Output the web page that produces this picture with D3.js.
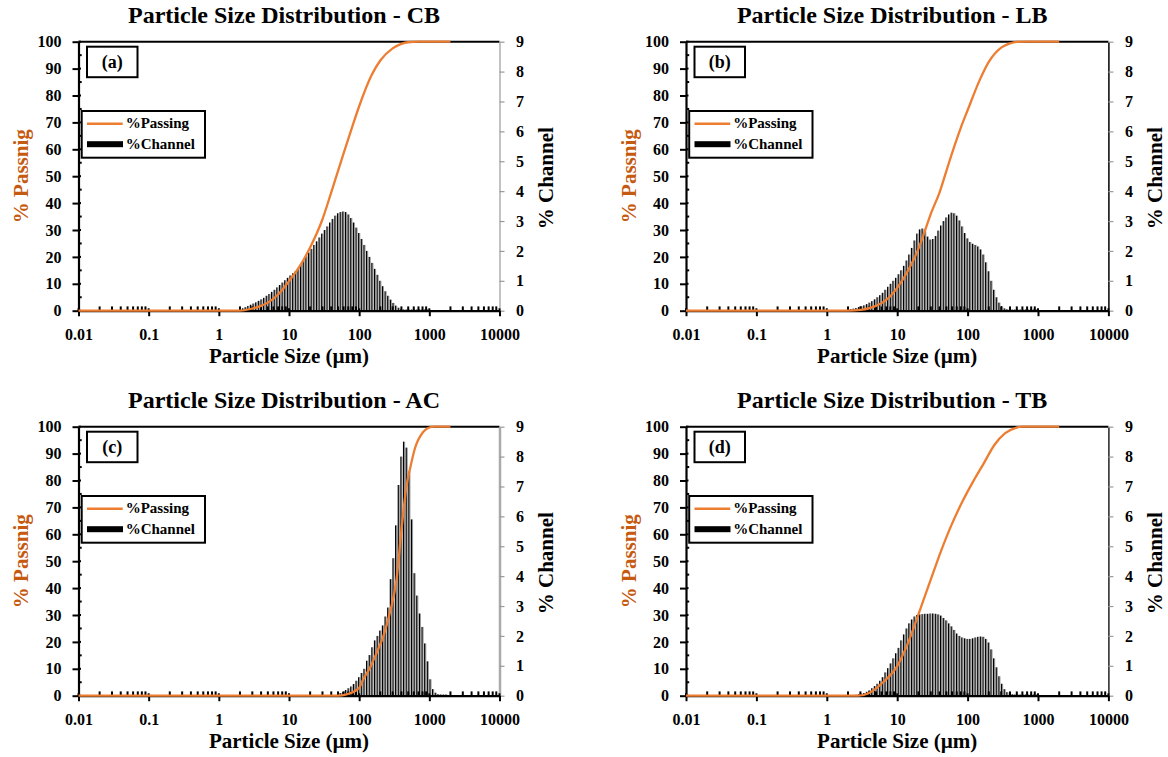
<!DOCTYPE html>
<html><head><meta charset="utf-8">
<script src="https://cdn.jsdelivr.net/npm/d3@7"></script>
<style>
body{margin:0;background:#fff;}
svg{display:block;}
text{font-family:"Liberation Serif","Times New Roman",serif;font-weight:bold;}
</style>
</head><body>
<svg id="chart" width="1168" height="757"></svg>
<script>
// ---------- DATA ----------
const panelTitles = ["Particle Size Distribution - CB","Particle Size Distribution - LB","Particle Size Distribution - AC","Particle Size Distribution - TB"];
const panelTags = ["(a)","(b)","(c)","(d)"];
const xTickValues = [0.01,0.1,1,10,100,1000,10000];
const xTickLabels = ["0.01","0.1","1","10","100","1000","10000"];
const leftTicks = [0,10,20,30,40,50,60,70,80,90,100];
const rightTicks = [0,1,2,3,4,5,6,7,8,9];
const xAxisTitle = "Particle Size (µm)";
const leftAxisTitle = "% Passnig";
const rightAxisTitle = "% Channel";
const legendLabels = ["%Passing","%Channel"];

// channel sizes (µm)
const channelSizes = [
 2.000, 2.181, 2.378, 2.594, 2.828, 3.084, 3.364, 3.668, 4.000, 4.362,
 4.757, 5.187, 5.657, 6.169, 6.727, 7.336, 8.000, 8.724, 9.514, 10.37,
 11.31, 12.34, 13.45, 14.67, 16.00, 17.45, 19.03, 20.75, 22.63, 24.68,
 26.91, 29.34, 32.00, 34.90, 38.05, 41.50, 45.25, 49.35, 53.82, 58.69,
 64.00, 69.79, 76.11, 83.00, 90.51, 98.70, 107.6, 117.4, 128.0, 139.6,
 152.2, 166.0, 181.0, 197.4, 215.3, 234.8, 256.0, 279.2, 304.4, 332.0,
 362.0, 394.8, 430.5, 469.5, 512.0, 558.3, 608.9, 664.0, 724.1, 789.6,
 861.1, 939.1, 1024, 1117, 1218, 1328, 1448, 1579, 1722, 1878,
 2048];

const chanCB = [
 0.03, 0.08, 0.12, 0.16, 0.20, 0.24, 0.28, 0.33, 0.38, 0.43,
 0.50, 0.56, 0.63, 0.70, 0.78, 0.86, 0.94, 1.02, 1.10, 1.18,
 1.25, 1.32, 1.42, 1.55, 1.68, 1.82, 1.95, 2.07, 2.20, 2.32,
 2.45, 2.58, 2.70, 2.82, 2.95, 3.07, 3.18, 3.26, 3.30, 3.32,
 3.30, 3.22, 3.10, 2.95, 2.78, 2.60, 2.40, 2.20, 2.00, 1.80,
 1.60, 1.40, 1.20, 1.00, 0.82, 0.65, 0.50, 0.37, 0.26, 0.17,
 0.10, 0.06, 0.04, 0.04, 0.04, 0.04, 0.04, 0.04, 0.04, 0.04,
 0.04, 0.04, 0, 0, 0, 0, 0, 0, 0, 0,
 0];
const chanLB = [
 0.03, 0.05, 0.07, 0.09, 0.12, 0.15, 0.18, 0.22, 0.27, 0.32,
 0.38, 0.45, 0.52, 0.60, 0.70, 0.80, 0.90, 1.00, 1.10, 1.22,
 1.35, 1.50, 1.68, 1.88, 2.10, 2.35, 2.58, 2.72, 2.75, 2.65,
 2.48, 2.38, 2.40, 2.50, 2.68, 2.85, 3.00, 3.12, 3.22, 3.28,
 3.26, 3.18, 3.02, 2.82, 2.60, 2.42, 2.30, 2.24, 2.20, 2.15,
 2.05, 1.88, 1.62, 1.32, 1.00, 0.70, 0.45, 0.27, 0.15, 0.08,
 0.05, 0.04, 0.04, 0.04, 0.04, 0.04, 0.04, 0.04, 0.04, 0.04,
 0.04, 0.04, 0, 0, 0, 0, 0, 0, 0, 0,
 0];
const chanAC = [
 0, 0, 0, 0, 0, 0, 0, 0, 0, 0,
 0, 0, 0, 0, 0, 0, 0, 0, 0, 0,
 0, 0, 0, 0, 0, 0, 0, 0, 0, 0,
 0, 0, 0, 0, 0, 0, 0.02, 0.05, 0.09, 0.13,
 0.19, 0.25, 0.31, 0.39, 0.50, 0.62, 0.76, 0.90, 1.17, 1.36,
 1.62, 1.85, 2.00, 2.18, 2.35, 2.65, 2.95, 3.90, 4.60, 5.70,
 7.05, 8.00, 8.50, 8.30, 7.50, 5.90, 4.10, 3.35, 2.75, 2.30,
 1.75, 1.15, 0.55, 0.22, 0.10, 0.05, 0.04, 0.04, 0.04, 0,
 0];
const chanTB = [
 0, 0, 0, 0.03, 0.05, 0.07, 0.09, 0.13, 0.18, 0.25,
 0.32, 0.40, 0.50, 0.62, 0.78, 0.92, 1.08, 1.25, 1.42, 1.60,
 1.85, 2.05, 2.25, 2.42, 2.55, 2.65, 2.70, 2.72, 2.73, 2.74,
 2.74, 2.75, 2.75, 2.74, 2.72, 2.68, 2.60, 2.52, 2.42, 2.32,
 2.20, 2.08, 2.00, 1.95, 1.92, 1.90, 1.90, 1.92, 1.95, 1.97,
 1.98, 1.97, 1.90, 1.78, 1.55, 1.25, 0.95, 0.65, 0.40, 0.22,
 0.12, 0.07, 0.05, 0.04, 0.04, 0.04, 0.04, 0.04, 0.04, 0.04,
 0.04, 0.04, 0, 0, 0, 0, 0, 0, 0, 0,
 0];

// cumulative passing curves
const passCBSize  = [0.01, 2, 3, 4, 5, 7, 10, 15, 20, 30, 40, 50, 60, 80, 100, 150, 200, 300, 400, 500, 700, 2000];
const passCBValue = [0, 0, 0.8, 1.8, 3.0, 6.0, 11, 17.5, 23.5, 34, 44, 52, 58.5, 68.5, 76, 87.5, 93, 97.5, 99.2, 99.8, 100, 100];
const passLBSize  = [0.01, 2, 3, 5, 7, 10, 15, 20, 25, 30, 40, 50, 60, 80, 100, 150, 200, 300, 400, 500, 700, 2000];
const passLBValue = [0, 0, 0.3, 1.8, 4, 8.5, 16, 23, 30, 36, 44, 52, 58.5, 68, 74.5, 86, 92.5, 97.8, 99.4, 99.9, 100, 100];
const passACSize  = [0.01, 50, 66, 100, 114, 142, 177, 220, 274, 341, 402, 473, 527, 621, 816, 961, 1200, 2000];
const passACValue = [0, 0, 0.5, 2.9, 6, 10.3, 15.9, 22, 30.8, 43.3, 62, 78, 84, 91.8, 98, 99.5, 100, 100];
const passTBSize  = [0.01, 2.8, 4, 6.3, 10.1, 14.4, 20.5, 29.1, 41.4, 58.9, 83.7, 119, 169, 240, 342, 486, 600, 2000];
const passTBValue = [0, 0, 1, 5, 11.2, 19.9, 31, 42.2, 53.4, 63.4, 72, 79.5, 86.3, 93.2, 97.6, 99.6, 100, 100];

// ---------- DRAW ----------
const svg = d3.select("#chart");
const ORANGE = "#ED7D31";
const ORANGE_TXT = "#C55A11";

const panels = [
  {i:0, chan:chanCB, ps:passCBSize, pv:passCBValue, L:78.5, T:41.7, W:421, H:269, rc:"#9a9a9a", rw:1.2},
  {i:1, chan:chanLB, ps:passLBSize, pv:passLBValue, L:686,  T:41.7, W:422.4, H:269, rc:"#000", rw:1.5},
  {i:2, chan:chanAC, ps:passACSize, pv:passACValue, L:78.5, T:426.7, W:421, H:269, rc:"#aaaaaa", rw:2.5},
  {i:3, chan:chanTB, ps:passTBSize, pv:passTBValue, L:686,  T:426.7, W:422.4, H:269, rc:"#222", rw:1.5}
];

panels.forEach(p => {
  const {L,T,W,H} = p;
  const g = svg.append("g");
  const x = d3.scaleLog().domain([0.01,10000]).range([L, L+W]);
  const y = d3.scaleLinear().domain([0,100]).range([T+H, T]);
  const y2 = d3.scaleLinear().domain([0,9]).range([T+H, T]);

  // bars
  const bars = channelSizes.map((s,k)=>({s, v:p.chan[k]})).filter(d=>d.v>0);
  g.append("g").selectAll("rect.gr").data(bars).join("rect")
    .attr("x", d=>x(d.s)+0.5).attr("width",1.0)
    .attr("y", d=>y2(d.v)).attr("height", d=>y2(0)-y2(d.v))
    .attr("fill","#9c9c9c");
  g.append("g").selectAll("rect.bk").data(bars).join("rect")
    .attr("x", d=>x(d.s)-0.7).attr("width",1.2)
    .attr("y", d=>y2(d.v)).attr("height", d=>y2(0)-y2(d.v))
    .attr("fill","#000");

  // top border
  g.append("line").attr("x1",L).attr("x2",L+W).attr("y1",T).attr("y2",T)
    .attr("stroke","#000").attr("stroke-width",2);

  // right axis
  const ra = g.append("g").attr("transform",`translate(${L+W},0)`)
    .call(d3.axisRight(y2).tickValues(rightTicks).tickSize(5).tickSizeOuter(0).tickPadding(11.5));
  ra.select(".domain").attr("stroke",p.rc).attr("stroke-width",p.rw);
  ra.selectAll(".tick line").attr("stroke","#999").attr("stroke-width",1.2);
  ra.selectAll("text").attr("font-size",16).attr("font-family","Liberation Serif").attr("font-weight","bold").attr("fill","#000");

  // left axis
  const la = g.append("g").attr("transform",`translate(${L},0)`)
    .call(d3.axisLeft(y).tickValues(leftTicks).tickSize(6).tickSizeOuter(0).tickPadding(11));
  la.select(".domain").attr("stroke","#000").attr("stroke-width",2.2);
  la.selectAll(".tick line").attr("stroke","#000").attr("stroke-width",2);
  la.selectAll("text").attr("font-size",16).attr("font-family","Liberation Serif").attr("font-weight","bold").attr("fill","#000");
  g.append("g").selectAll("line").data(leftTicks).join("line")
    .attr("x1",L).attr("x2",L+2.5).attr("y1",d=>y(d)).attr("y2",d=>y(d))
    .attr("stroke","#000").attr("stroke-width",2);
  g.append("g").selectAll("line").data(leftTicks.slice(0,-1)).join("line")
    .attr("x1",L).attr("x2",L+3.2).attr("y1",d=>y(d+5)).attr("y2",d=>y(d+5))
    .attr("stroke","#000").attr("stroke-width",2);

  // bottom axis
  const ba = g.append("g").attr("transform",`translate(0,${T+H})`)
    .call(d3.axisBottom(x).tickValues(xTickValues).tickFormat((d,k)=>xTickLabels[k]).tickSize(5.5).tickSizeOuter(0).tickPadding(12.4));
  ba.select(".domain").attr("stroke","#000").attr("stroke-width",2.2);
  ba.selectAll(".tick line").attr("stroke","#000").attr("stroke-width",2);
  ba.selectAll("text").attr("font-size",16).attr("font-family","Liberation Serif").attr("font-weight","bold").attr("fill","#000");
  g.append("g").selectAll("line").data(xTickValues).join("line")
    .attr("x1",d=>x(d)).attr("x2",d=>x(d)).attr("y1",T+H).attr("y2",T+H-2.4)
    .attr("stroke","#000").attr("stroke-width",2);
  const minors = [];
  xTickValues.slice(0,-1).forEach(dec => { for (let m=2;m<=9;m++) minors.push(dec*m); });
  g.append("g").selectAll("line").data(minors).join("line")
    .attr("x1",d=>x(d)).attr("x2",d=>x(d)).attr("y1",T+H).attr("y2",T+H-4.3)
    .attr("stroke","#000").attr("stroke-width",2);

  // passing curve
  const pts = p.ps.map((s,k)=>[x(s), y(p.pv[k])]);
  g.append("path").attr("d", d3.line().curve(d3.curveMonotoneX)(pts))
    .attr("fill","none").attr("stroke",ORANGE).attr("stroke-width",2.3);

  // tag box
  g.append("rect").attr("x",L+8.5).attr("y",T+5).attr("width",50.5).attr("height",30.5)
    .attr("fill","#fff").attr("stroke","#000").attr("stroke-width",2);
  g.append("text").attr("x",L+33.7).attr("y",T+26.5).attr("text-anchor","middle")
    .attr("font-size",18).text(panelTags[p.i]);

  // legend
  g.append("rect").attr("x",L+3.2).attr("y",T+69.3).attr("width",123.3).attr("height",46.7)
    .attr("fill","#fff").attr("stroke","#000").attr("stroke-width",2);
  g.append("line").attr("x1",L+8.5).attr("x2",L+44.2).attr("y1",T+82).attr("y2",T+82)
    .attr("stroke",ORANGE).attr("stroke-width",2.5);
  g.append("rect").attr("x",L+8.5).attr("y",T+99.5).attr("width",36).attr("height",6).attr("fill","#000");
  g.append("text").attr("x",L+47.2).attr("y",T+86.5).attr("font-size",15).text(legendLabels[0]);
  g.append("text").attr("x",L+47.2).attr("y",T+107.6).attr("font-size",15).text(legendLabels[1]);

  // titles
  g.append("text").attr("x",L+W/2-5).attr("y",T-18.4).attr("text-anchor","middle")
    .attr("font-size",24).text(panelTitles[p.i]);
  g.append("text").attr("x",L+W/2).attr("y",T+H+52).attr("text-anchor","middle")
    .attr("font-size",21).text(xAxisTitle);
  g.append("text").attr("transform",`translate(${L-50.2},${T+H/2}) rotate(-90)`).attr("text-anchor","middle")
    .attr("font-size",21).attr("fill",ORANGE_TXT).text(leftAxisTitle);
  g.append("text").attr("transform",`translate(${L+W+53.3},${T+H/2+2}) rotate(-90)`).attr("text-anchor","middle")
    .attr("font-size",21).attr("fill","#000").text(rightAxisTitle);
});
</script>
</body></html>
